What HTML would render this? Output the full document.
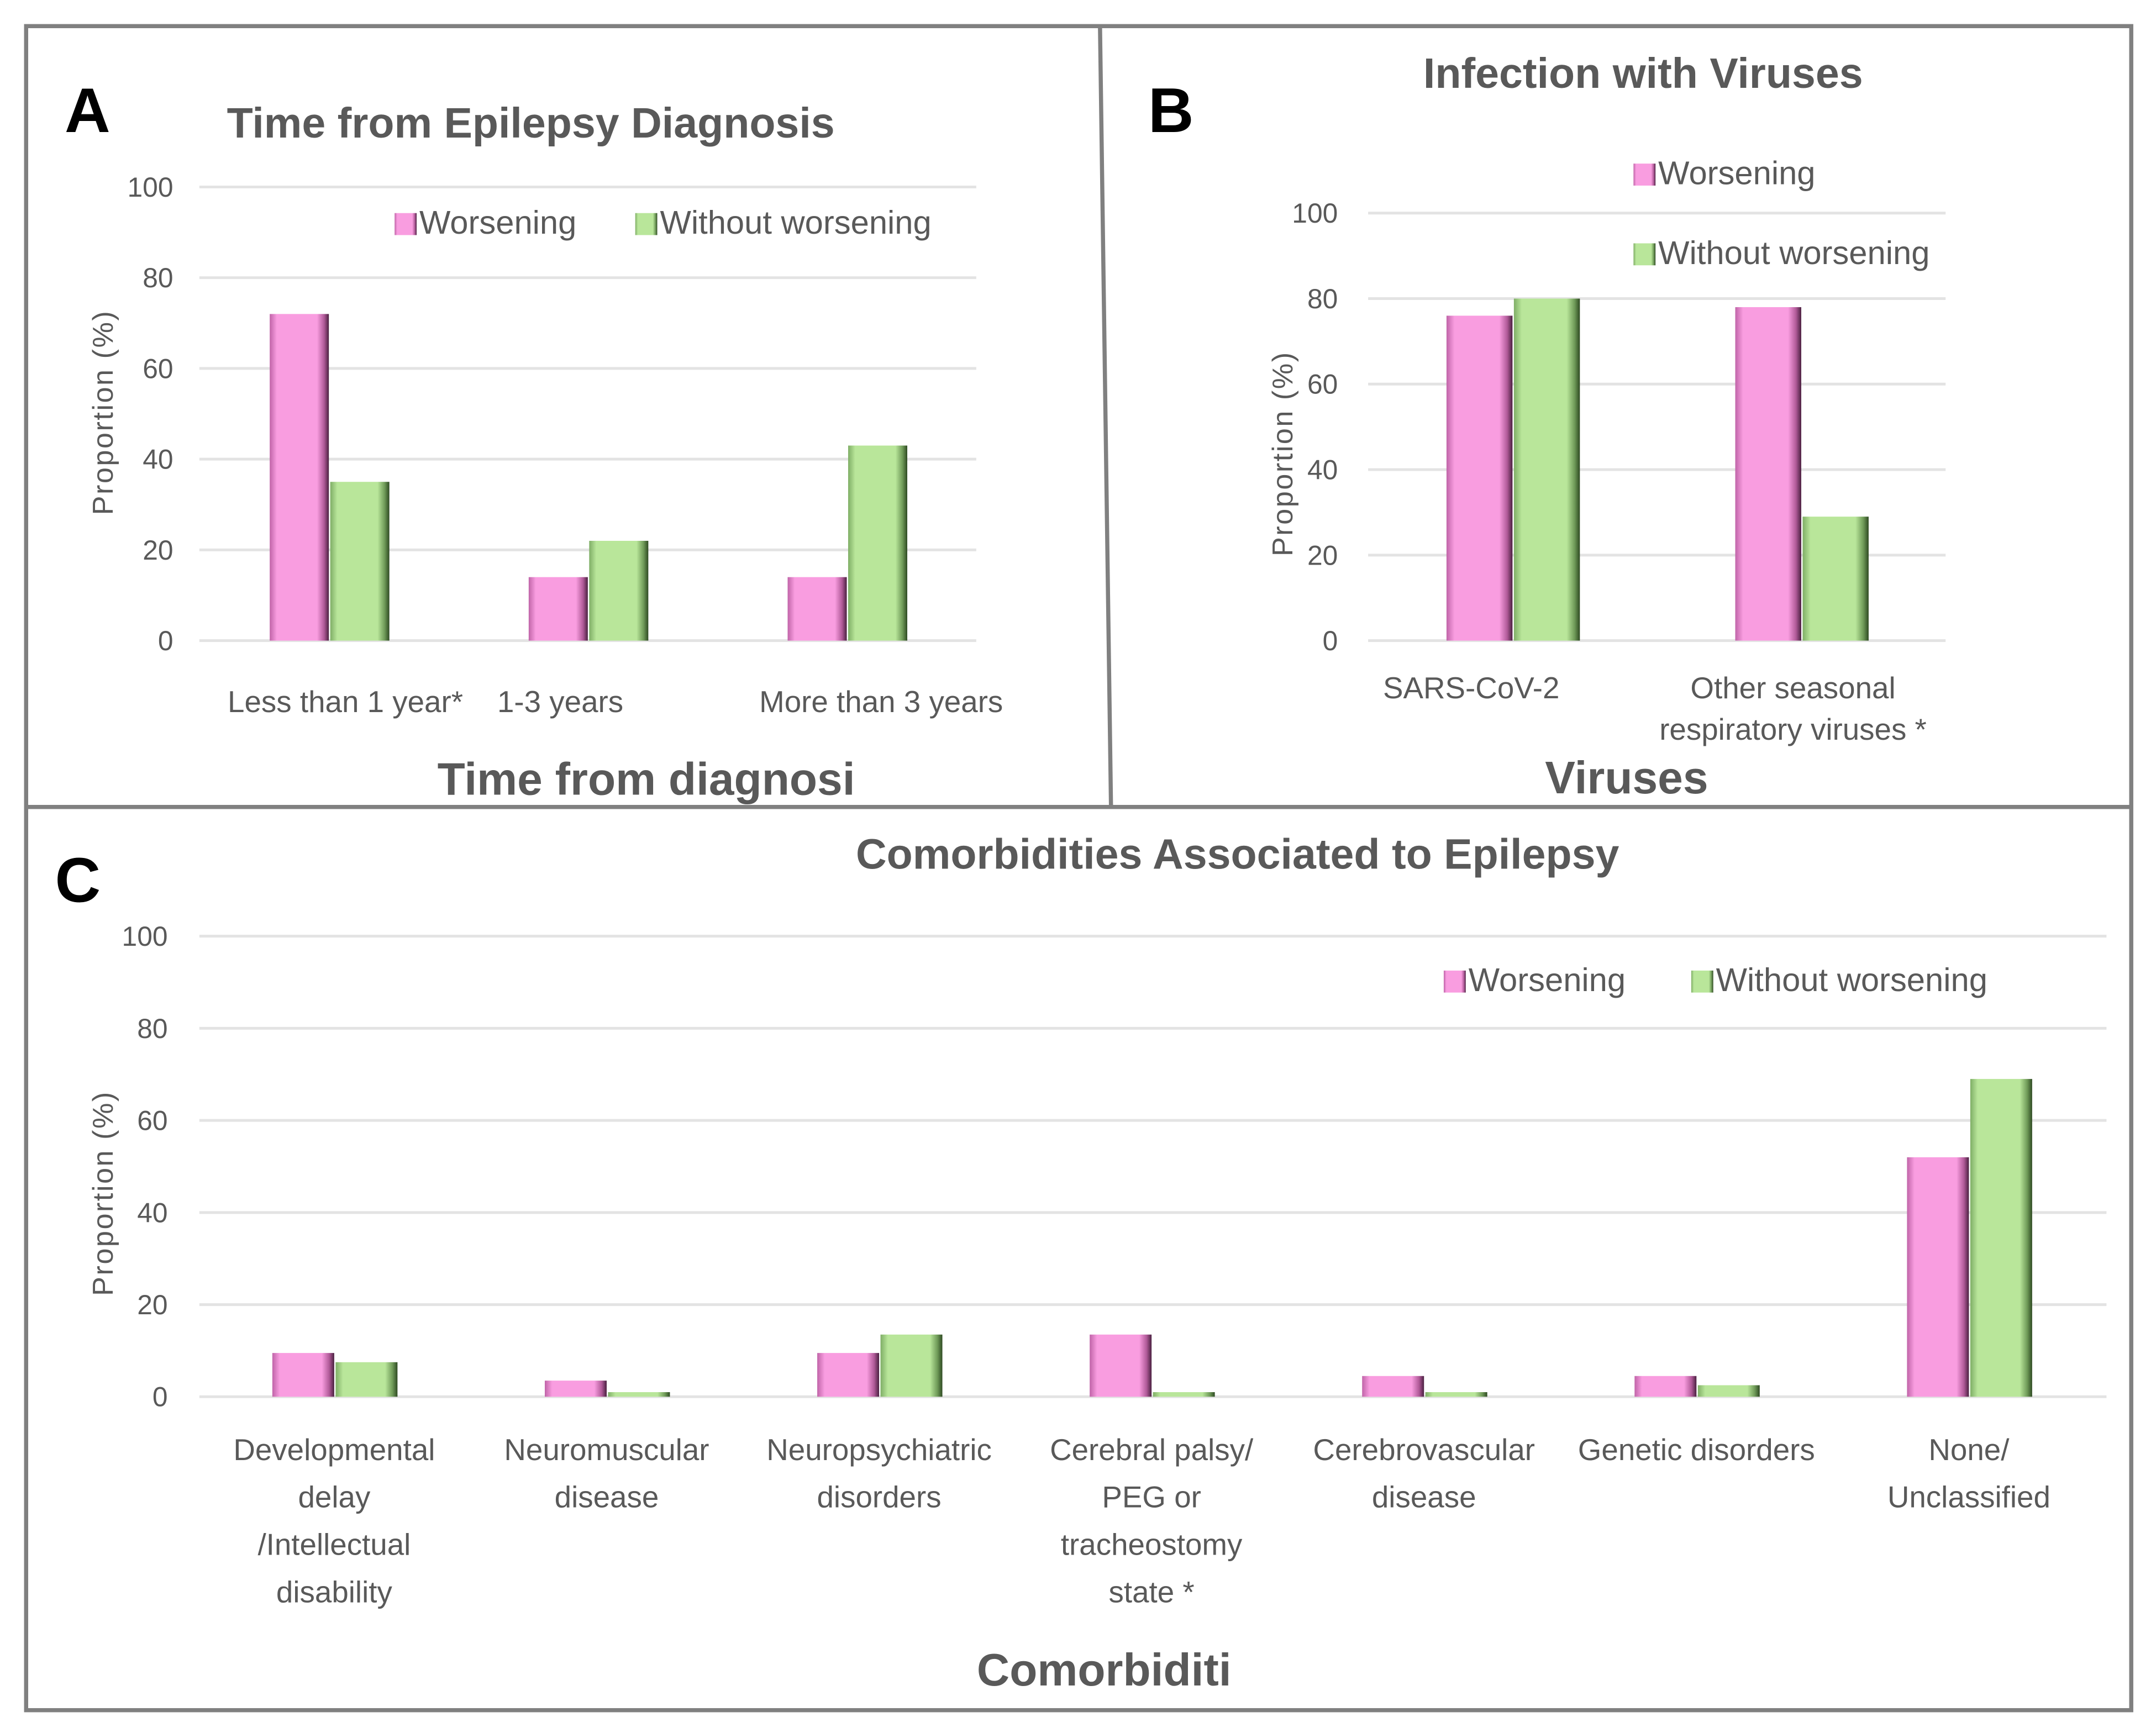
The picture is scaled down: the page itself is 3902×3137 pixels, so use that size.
<!DOCTYPE html>
<html><head><meta charset="utf-8">
<style>
html,body{margin:0;padding:0;background:#fff;}
svg{display:block;}
text{font-family:"Liberation Sans",sans-serif;fill:#595959;}
</style></head>
<body>
<svg id="fig" xmlns="http://www.w3.org/2000/svg" width="3902" height="3137" viewBox="0 0 1568 1260.6" preserveAspectRatio="none">
<defs>
<linearGradient id="gp" x1="0" x2="1" y1="0" y2="0">
<stop offset="0" stop-color="#c064a8"/><stop offset="0.12" stop-color="#f99de0"/><stop offset="0.8" stop-color="#f99de0"/><stop offset="0.92" stop-color="#b05a98"/><stop offset="1" stop-color="#4a2040"/>
</linearGradient>
<linearGradient id="gg" x1="0" x2="1" y1="0" y2="0">
<stop offset="0" stop-color="#7fae66"/><stop offset="0.12" stop-color="#b9e69a"/><stop offset="0.8" stop-color="#b9e69a"/><stop offset="0.92" stop-color="#6f9a58"/><stop offset="1" stop-color="#2e4a22"/>
</linearGradient>
</defs>
<g fill="none" stroke="#808080" stroke-width="3">
<rect x="19" y="19" width="1531" height="1225"/>
<line x1="800" y1="19" x2="808" y2="587"/>
<line x1="19" y1="587" x2="1550" y2="587"/>
</g>
<g id="charts"></g>
</svg>
<script>
// Panel A data
const catsA = ["Less than 1 year*", "1-3 years", "More than 3 years"];
const worsA = [72, 14, 14];
const withA = [35, 22, 43];
// Panel B data
const catsB = [["SARS-CoV-2"], ["Other seasonal", "respiratory viruses *"]];
const worsB = [76, 78];
const withB = [80, 29];
// Panel C data
const catsC = [["Developmental","delay","/Intellectual","disability"],["Neuromuscular","disease"],["Neuropsychiatric","disorders"],["Cerebral palsy/","PEG or","tracheostomy","state *"],["Cerebrovascular","disease"],["Genetic disorders"],["None/","Unclassified"]];
const worsC = [9.5, 3.5, 9.5, 13.5, 4.5, 4.5, 52];
const withC = [7.5, 1, 13.5, 1, 1, 2.5, 69];
const ticks = [0, 20, 40, 60, 80, 100];

const NS = "http://www.w3.org/2000/svg";
const root = document.getElementById('charts');
function mk(tag, attrs, parent, txt){
  const e = document.createElementNS(NS, tag);
  for (const k in attrs) e.setAttribute(k, attrs[k]);
  if (txt !== undefined) e.textContent = txt;
  (parent || root).appendChild(e);
  return e;
}
function chart(o){
  const g = mk('g', {});
  
  
  const y = v => o.y0 - (o.y0 - o.y100) * v / 100;
  ticks.forEach(t => {
    const l = mk('line', {x1:o.x0, x2:o.x1, y1:y(t), y2:y(t), stroke:'#e3e3e3', 'stroke-width':2}, g);
    
    
    const tt = mk('text', {x:o.tickX, y:y(t)+7, 'text-anchor':'end', 'font-size':20}, g, String(t));
    
    
  });
  const n = o.w.length;
  const step = (o.x1 - o.x0) / n;
  for (let i = 0; i < n; i++) {
    const c = o.x0 + step * (i + 0.5) + (o.shift || 0);
    const b1 = mk('rect', {x:c - o.bw, y:y(o.w[i]), width:o.bw, height:y(0)-y(o.w[i]), fill:'url(#gp)'}, g);
    
    
    const b2 = mk('rect', {x:c + 1, y:y(o.g[i]), width:o.bw, height:y(0)-y(o.g[i]), fill:'url(#gg)'}, g);
    
    
    const lines = Array.isArray(o.cats[i]) ? o.cats[i] : [o.cats[i]];
    lines.forEach((s, k) => {
      const t = mk('text', {x:c + (o.labShift ? o.labShift[i] : 0), y:o.labY + k*o.labDy, 'text-anchor':'middle', 'font-size':o.labFs||22}, g, s);
      
      
    });
  }
  const at = mk('text', {x:0, y:0, 'text-anchor':'middle', 'font-size':21, transform:`translate(${o.axX},${o.axY}) rotate(-90)`, 'letter-spacing':1}, g, 'Proportion (%)');
  
  
}
function legend(x, y, label, grad, name){
  const g = mk('g', {});
  
  
  mk('rect', {x:x, y:y-15, width:16, height:16, fill:grad}, g);
  mk('text', {x:x+18, y:y, 'font-size':24}, g, label);
}
function label(x, y, s, fs, name, opts){
  const t = mk('text', Object.assign({x:x, y:y, 'font-size':fs}, opts||{}), root, s);
  
  
}

// Panel A
label(47, 96, 'A', 46, 'panel-a-letter', {'font-weight':'bold', style:'fill:#000'});
label(165, 100, 'Time from Epilepsy Diagnosis', 31, 'panel-a-title', {'font-weight':'bold'});
chart({name:'panel-a-chart', cats:catsA, w:worsA, g:withA, x0:145, x1:710, y0:466, y100:136, tickX:126, bw:43, labY:518, labDy:30, labShift:[12,-20,25], axX:82, axY:300});
legend(287, 170, 'Worsening', 'url(#gp)', 'legend-worsening-a');
legend(462, 170, 'Without worsening', 'url(#gg)', 'legend-without-worsening-a');
label(470, 578, 'Time  from  diagnosi', 33, 'panel-a-x-axis-title', {'text-anchor':'middle', 'font-weight':'bold'});

// Panel B
label(835, 96, 'B', 46, 'panel-b-letter', {'font-weight':'bold', style:'fill:#000'});
label(1195, 64, 'Infection with Viruses', 31, 'panel-b-title', {'text-anchor':'middle', 'font-weight':'bold'});
chart({name:'panel-b-chart', cats:catsB, w:worsB, g:withB, x0:995, x1:1415, y0:466, y100:155, tickX:973, bw:48, labY:508, labDy:30, labShift:[-30,-6], axX:940, axY:330});
legend(1188, 134, 'Worsening', 'url(#gp)', 'legend-worsening-b');
legend(1188, 192, 'Without worsening', 'url(#gg)', 'legend-without-worsening-b');
label(1183, 577, 'Viruses', 33, 'panel-b-x-axis-title', {'text-anchor':'middle', 'font-weight':'bold'});

// Panel C
label(40, 656, 'C', 46, 'panel-c-letter', {'font-weight':'bold', style:'fill:#000'});
label(900, 632, 'Comorbidities Associated to Epilepsy', 31, 'panel-c-title', {'text-anchor':'middle', 'font-weight':'bold'});
chart({name:'panel-c-chart', cats:catsC, w:worsC, g:withC, x0:145, x1:1532, y0:1016, y100:681, tickX:122, bw:45, labY:1062, labDy:34.5, axX:82, axY:868, shift:-1});
legend(1050, 721, 'Worsening', 'url(#gp)', 'legend-worsening-c');
legend(1230, 721, 'Without worsening', 'url(#gg)', 'legend-without-worsening-c');
label(803, 1226, 'Comorbiditi', 33, 'panel-c-x-axis-title', {'text-anchor':'middle', 'font-weight':'bold'});
</script>
</body></html>
